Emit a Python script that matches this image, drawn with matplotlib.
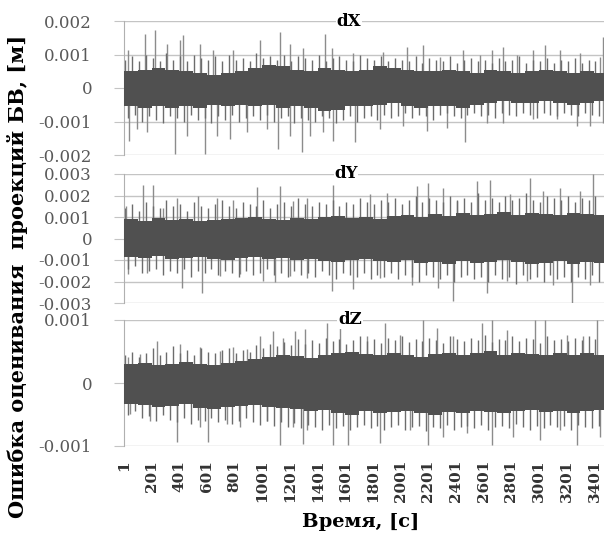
import numpy as np
import matplotlib
matplotlib.use('Agg')
import matplotlib.pyplot as plt

# values are in units of 1e-3 m (mm)
N = 3470
xticks = list(range(1, 3402, 200))

# dX: dense core (per 100 samples), medium envelope (per 50 samples), big spikes
dx_core_hi = [0.50,0.55,0.60,0.55,0.50,0.45,0.40,0.45,0.50,0.60,0.70,0.65,0.55,0.50,0.60,0.55,0.50,0.55,
              0.65,0.60,0.55,0.50,0.50,0.55,0.50,0.45,0.55,0.50,0.45,0.50,0.55,0.50,0.45,0.50,0.45]
dx_core_lo = [-0.55,-0.60,-0.55,-0.60,-0.55,-0.60,-0.50,-0.55,-0.50,-0.55,-0.50,-0.60,-0.55,-0.60,-0.70,-0.65,
              -0.55,-0.55,-0.50,-0.45,-0.55,-0.60,-0.55,-0.55,-0.60,-0.50,-0.45,-0.40,-0.45,-0.45,-0.40,-0.45,
              -0.50,-0.45,-0.40]
dx_med_hi = [0.85,0.95,0.80,1.00,0.90,0.80,1.05,0.85,0.95,0.80,1.00,0.90,0.85,0.95,0.80,1.00,0.85,0.90,
             0.80,1.05,0.90,0.95,0.85,1.00,0.80,0.95,0.90,0.85,1.00,0.80,0.90,0.95,0.85,0.80,1.00,
             0.90,0.85,0.95,0.80,0.90,0.85,0.80,0.95,0.75,0.90,0.85,0.80,0.95,0.75,0.85,0.90,0.80,
             0.85,0.75,0.90,0.80,0.85,0.95,0.75,0.85,0.80,0.90,0.75,0.85,0.80,0.90,0.75,0.85,0.80]
dx_med_lo = [-0.90,-0.80,-1.00,-0.85,-0.95,-1.05,-0.85,-0.90,-1.00,-0.80,-0.95,-0.90,-1.05,-0.85,-0.95,
             -0.80,-1.00,-0.90,-0.85,-0.95,-0.80,-1.00,-0.90,-0.85,-1.05,-0.90,-0.95,-1.00,-0.85,-0.90,
             -1.05,-0.95,-0.85,-1.00,-0.90,-0.85,-0.95,-0.80,-0.90,-0.85,-0.75,-0.90,-0.80,-0.85,-0.95,
             -0.80,-0.75,-0.85,-0.90,-0.80,-0.75,-0.85,-0.80,-0.90,-0.75,-0.80,-0.85,-0.75,-0.80,-0.90,
             -0.75,-0.80,-0.85,-0.75,-0.80,-0.85,-0.75,-0.80,-0.85]
dx_up_idx = [31,152,224,309,405,429,550,646,790,983,1128,1200,1296,1453,1502,1658,1875,2044,2164,2285,
             2453,2574,2658,2743,2839,2959,3044,3152,3297,3441,3462]
dx_up_val = [1.13,1.62,1.74,1.32,1.42,1.57,1.32,1.13,1.13,1.42,1.67,1.32,1.18,1.62,1.18,1.03,1.08,1.23,
             1.27,0.93,1.13,0.98,1.13,1.23,0.98,1.13,1.27,1.13,1.03,0.93,1.52]
dx_dn_idx = [38,92,164,369,453,586,670,766,887,1032,1116,1200,1285,1345,1441,1513,1670,1851,2019,2188,
             2333,2465,2622,2743,2959,3128,3273,3369,3465]
dx_dn_val = [-1.57,-1.23,-1.32,-1.96,-1.42,-1.96,-1.42,-1.52,-1.32,-1.23,-1.81,-1.42,-1.91,-1.42,-1.32,
             -1.57,-1.62,-1.23,-1.13,-1.27,-1.18,-1.62,-1.03,-1.03,-0.93,-0.93,-1.13,-1.13,-1.03]

# dY
dy_core_hi = [0.90,0.80,0.95,0.85,0.90,0.80,0.85,0.90,0.95,1.00,0.90,0.85,0.95,0.90,1.00,1.05,0.95,1.00,
              0.90,1.05,1.10,1.00,1.15,1.05,1.20,1.10,1.15,1.25,1.10,1.20,1.15,1.10,1.20,1.15,1.10]
dy_core_lo = [-0.85,-0.90,-0.80,-0.95,-0.90,-0.85,-0.95,-1.00,-0.90,-0.85,-0.95,-0.90,-1.00,-0.95,-1.05,
              -1.10,-1.00,-0.95,-1.05,-1.10,-1.00,-1.15,-1.10,-1.20,-1.05,-1.15,-1.10,-1.00,-1.10,-1.20,
              -1.15,-1.05,-1.20,-1.10,-1.15]
dy_med_hi = [1.4,1.6,1.3,1.7,1.5,1.4,1.8,1.5,1.6,1.3,1.7,1.5,1.4,1.6,1.8,1.5,1.4,1.7,1.6,1.5,1.8,1.4,
             1.6,1.7,1.5,1.9,1.6,1.5,1.7,1.6,1.8,1.5,1.7,1.6,1.9,1.7,1.6,1.8,1.7,1.9,1.6,1.8,2.0,1.7,
             1.9,1.8,1.7,2.0,1.8,1.9,1.7,2.1,1.8,1.9,1.7,2.0,1.8,1.9,2.1,1.8,1.7,2.0,1.9,1.8,2.0,1.7,
             1.9,1.8,2.0]
dy_med_lo = [-1.4,-1.3,-1.6,-1.5,-1.4,-1.7,-1.5,-1.6,-1.4,-1.8,-1.5,-1.6,-1.4,-1.7,-1.5,-1.6,-1.8,-1.5,
             -1.7,-1.6,-1.4,-1.7,-1.6,-1.8,-1.5,-1.7,-1.6,-1.8,-1.5,-1.7,-1.9,-1.6,-1.7,-1.8,-1.6,-1.9,
             -1.7,-1.8,-1.6,-1.9,-1.7,-1.8,-2.0,-1.7,-1.8,-1.9,-1.7,-2.0,-1.8,-1.7,-1.9,-1.8,-2.0,-1.7,
             -1.9,-1.8,-2.1,-1.7,-1.9,-1.8,-2.0,-1.7,-1.9,-1.8,-2.0,-1.8,-1.9,-1.7,-2.0]
dy_up_idx = [19,140,212,284,381,537,670,790,959,1128,1224,1321,1513,1779,1899,2116,2200,2309,2405,2550,
             2646,2791,2935,3032,3152,3297,3393]
dy_up_val = [1.50,2.51,2.51,1.43,1.89,1.97,1.89,1.81,2.39,2.43,1.74,1.89,2.51,2.05,2.12,2.43,2.59,2.36,
             1.74,2.67,2.74,2.05,2.82,2.20,2.36,2.20,2.98]
dy_dn_idx = [31,164,417,562,694,839,1007,1092,1200,1321,1502,1658,1851,2080,2272,2381,2622,2767,2911,
             3104,3237,3369]
dy_dn_val = [-1.67,-1.60,-2.29,-2.53,-1.75,-1.67,-1.98,-2.02,-1.75,-1.83,-2.45,-2.37,-1.83,-2.14,-2.29,
             -2.91,-2.53,-1.98,-1.98,-2.14,-2.99,-2.14]

# dZ
dz_core_hi = [0.30,0.32,0.28,0.30,0.33,0.30,0.28,0.32,0.35,0.38,0.42,0.45,0.43,0.40,0.45,0.48,0.50,0.46,
              0.44,0.47,0.45,0.42,0.46,0.48,0.44,0.47,0.50,0.45,0.48,0.46,0.44,0.48,0.45,0.47,0.44]
dz_core_lo = [-0.33,-0.35,-0.38,-0.36,-0.34,-0.40,-0.42,-0.38,-0.36,-0.35,-0.38,-0.40,-0.42,-0.45,-0.43,
              -0.47,-0.50,-0.45,-0.48,-0.46,-0.44,-0.48,-0.50,-0.46,-0.47,-0.44,-0.46,-0.48,-0.45,-0.43,
              -0.46,-0.44,-0.47,-0.45,-0.43]
dz_med_hi = [0.45,0.50,0.42,0.48,0.55,0.45,0.50,0.58,0.48,0.52,0.45,0.55,0.50,0.47,0.52,0.56,0.48,0.53,
             0.50,0.60,0.55,0.62,0.58,0.65,0.60,0.70,0.62,0.68,0.64,0.72,0.66,0.70,0.62,0.68,0.74,0.66,
             0.70,0.64,0.72,0.68,0.75,0.65,0.70,0.66,0.72,0.68,0.64,0.74,0.70,0.66,0.72,0.68,0.76,0.65,
             0.70,0.68,0.74,0.66,0.72,0.70,0.64,0.74,0.68,0.70,0.66,0.72,0.68,0.74,0.70]
dz_med_lo = [-0.50,-0.45,-0.55,-0.52,-0.60,-0.50,-0.58,-0.62,-0.55,-0.65,-0.58,-0.60,-0.55,-0.62,-0.58,
             -0.65,-0.60,-0.55,-0.62,-0.66,-0.60,-0.68,-0.62,-0.70,-0.64,-0.72,-0.66,-0.70,-0.75,-0.66,
             -0.72,-0.68,-0.74,-0.70,-0.66,-0.72,-0.68,-0.75,-0.70,-0.66,-0.74,-0.70,-0.68,-0.76,-0.70,
             -0.72,-0.66,-0.74,-0.70,-0.68,-0.72,-0.66,-0.74,-0.70,-0.68,-0.72,-0.65,-0.70,-0.74,-0.68,
             -0.72,-0.66,-0.70,-0.68,-0.74,-0.66,-0.70,-0.72,-0.68]
dz_up_idx = [31,116,236,405,550,694,790,887,983,1080,1152,1236,1309,1465,1562,1755,1887,1995,2164,2261,
             2381,2586,2658,2767,2972,3044,3200,3321,3418]
dz_up_val = [0.41,0.46,0.67,0.62,0.57,0.51,0.57,0.54,0.75,0.83,0.72,0.83,0.86,0.95,0.87,0.74,0.95,0.76,
             1.00,0.87,0.74,0.95,1.00,0.84,1.00,1.00,0.76,0.74,1.00]
dz_dn_idx = [43,188,381,550,610,742,839,1032,1128,1224,1296,1321,1513,1622,1851,2068,2200,2309,2478,2658,
             2815,3008,3152,3273,3441]
dz_dn_val = [-0.49,-0.60,-0.94,-0.70,-0.94,-0.65,-0.70,-0.60,-0.99,-0.70,-0.97,-0.75,-0.98,-0.98,-0.96,
             -0.75,-0.98,-0.85,-0.80,-0.98,-0.85,-0.90,-0.75,-0.98,-0.85]

panels = [
    ('dX', [-0.002, -0.001, 0, 0.001, 0.002], ['-0.002', '-0.001', '0', '0.001', '0.002'],
     dx_core_hi, dx_core_lo, dx_med_hi, dx_med_lo, dx_up_idx, dx_up_val, dx_dn_idx, dx_dn_val),
    ('dY', [-0.003, -0.002, -0.001, 0, 0.001, 0.002, 0.003],
     ['-0.003', '-0.002', '-0.001', '0', '0.001', '0.002', '0.003'],
     dy_core_hi, dy_core_lo, dy_med_hi, dy_med_lo, dy_up_idx, dy_up_val, dy_dn_idx, dy_dn_val),
    ('dZ', [-0.001, 0, 0.001], ['-0.001', '0', '0.001'],
     dz_core_hi, dz_core_lo, dz_med_hi, dz_med_lo, dz_up_idx, dz_up_val, dz_dn_idx, dz_dn_val),
]

W, H = 606, 544
fig = plt.figure(figsize=(W / 100, H / 100), dpi=100)

# pixel boxes (top, bottom) of each panel and title centre x
boxes = [(21, 155, 349), (174, 303, 346), (320, 446, 350)]
left, right = 124, 604

line_col = '#505050'
med_col = '#6c6c6c'
spike_col = '#8c8c8c'
grid_col = '#c4c4c4'
mm = 1e-3

for i, (name, yt, ytl, chi, clo, mhi, mlo, uidx, uval, didx, dval) in enumerate(panels):
    top, bot, tx = boxes[i]
    ax = fig.add_axes([left / W, 1 - bot / H, (right - left) / W, (bot - top) / H])
    ax.set_xlim(1, N)
    ax.set_ylim(yt[0], yt[-1])

    # big spikes (thin, look lighter)
    ax.vlines(uidx, 0, np.array(uval) * mm, color=spike_col, lw=1.0, zorder=2)
    ax.vlines(didx, np.array(dval) * mm, 0, color=spike_col, lw=1.0, zorder=2)

    # medium spikes around the core, one up and one down per 50-sample bin
    mk = np.arange(len(mhi))
    ax.vlines(50 * mk + 8, 0, np.array(mhi) * mm, color=med_col, lw=1.0, zorder=2)
    ax.vlines(50 * mk + 33, np.array(mlo) * mm, 0, color=med_col, lw=1.0, zorder=2)

    # dense core
    cx = 50 + 100 * np.arange(len(chi))
    ax.bar(cx, (np.array(chi) - np.array(clo)) * mm, bottom=np.array(clo) * mm, width=100,
           color=line_col, linewidth=0, zorder=3)

    ax.set_yticks(yt)
    ax.set_yticklabels(ytl, fontsize=12, color='#595959', family='DejaVu Serif')
    ax.yaxis.grid(True, color=grid_col, lw=1.0, zorder=0)
    ax.set_axisbelow(True)
    ax.tick_params(axis='y', length=7, color=grid_col, pad=16)
    for s in ['top', 'right', 'bottom']:
        ax.spines[s].set_visible(False)
    ax.spines['left'].set_color('#b0b0b0')

    if i < 2:
        ax.set_xticks([])
    else:
        ax.set_xticks(xticks)
        ax.set_xticklabels([str(t) for t in xticks], rotation=90, fontsize=11, fontweight='bold',
                           color='#333333', family='DejaVu Serif', va='top', ha='center')
        ax.tick_params(axis='x', length=0, pad=10)

    fig.text(tx / W, 1 - top / H, name, ha='center', va='center', fontsize=12, fontweight='bold',
             family='DejaVu Serif', bbox=dict(facecolor='white', edgecolor='none', pad=0.5))

fig.text(18 / W, 1 - 276 / H, 'Ошибка оценивания  проекций БВ, [м]', rotation=90, ha='center',
         va='center', fontsize=15, fontweight='bold', family='DejaVu Serif')
fig.text(361 / W, 1 - 522 / H, 'Время, [с]', ha='center', va='center', fontsize=14,
         fontweight='bold', family='DejaVu Serif')

fig.savefig('out.png', dpi=100)
